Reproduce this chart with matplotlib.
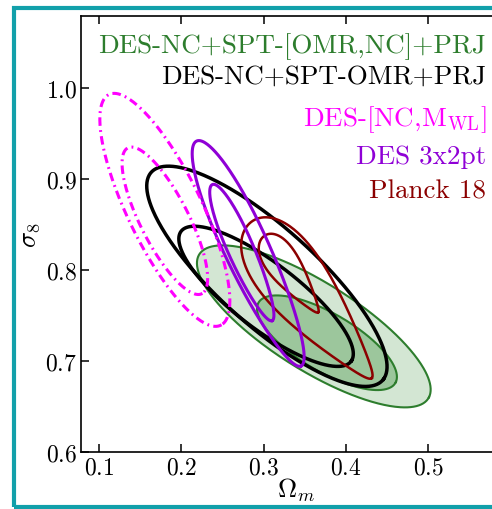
import numpy as np
import matplotlib
matplotlib.use("Agg")
import matplotlib.pyplot as plt
from matplotlib.patches import Rectangle

plt.rcParams["font.family"] = "serif"
plt.rcParams["font.serif"] = ["cmr10"]
plt.rcParams["mathtext.fontset"] = "cm"
plt.rcParams["axes.formatter.use_mathtext"] = True

# contour sets, each as [inner (68%), outer (95%)]
set_labels = ["DES-NC+SPT-[OMR,NC]+PRJ", "DES-NC+SPT-OMR+PRJ",
              r"DES-[NC,M$_{\rm WL}$]", "DES 3x2pt", "Planck 18"]
om_center = [[0.377, 0.361], [0.303, 0.304], [0.180, 0.180], [0.274, 0.282], [0.333, 0.357]]
s8_center = [[0.720, 0.738], [0.771, 0.793], [0.854, 0.866], [0.819, 0.818], [0.795, 0.766]]
om_halfwidth = [[0.085, 0.142], [0.106, 0.146], [0.052, 0.079], [0.039, 0.068], [0.036, 0.079]]
s8_halfheight = [[0.052, 0.089], [0.077, 0.121], [0.081, 0.128], [0.075, 0.124], [0.043, 0.088]]
corr = [[-0.72, -0.78], [-0.82, -0.82], [-0.78, -0.78], [-0.90, -0.90], [-0.80, -0.82]]
taper = [[0.0, 0.0], [0.0, 0.0], [0.0, 0.0], [-0.1, -0.1], [-0.55, -0.55]]

green = "#2d7d2d"
colors = [green, "black", "#ff00ff", "#8f00d6", "#8b0000"]
widths = [1.5, 2.5, 2.2, 2.2, 1.8]
fill_colors = ["#9cc69c", "#d3e6d3"]


def contour_xy(cx, cy, a, b, rho, tp, n=400):
    # ellipse from the covariance, optionally narrowed toward its lower-right tip
    cov = np.array([[a * a, rho * a * b], [rho * a * b, b * b]])
    vals, vecs = np.linalg.eigh(cov)
    major = vecs[:, 1] * np.sign(vecs[0, 1])
    minor = vecs[:, 0]
    t = np.linspace(0, 2 * np.pi, n)
    u = np.cos(t)
    v = np.sin(t) * (1 + tp * u)
    pts = np.sqrt(vals[1]) * np.outer(major, u) + np.sqrt(vals[0]) * np.outer(minor, v)
    return cx + pts[0], cy + pts[1]


def contour(i, k):
    return contour_xy(om_center[i][k], s8_center[i][k], om_halfwidth[i][k],
                      s8_halfheight[i][k], corr[i][k], taper[i][k])


fig = plt.figure(figsize=(4.92, 5.10), dpi=100)
ax = fig.add_axes([0.1646, 0.1118, 0.873, 0.8549])

# filled green contours first
for k in [1, 0]:
    x, y = contour(0, k)
    ax.fill(x, y, color=fill_colors[k], lw=0)
for k in [1, 0]:
    x, y = contour(0, k)
    ax.plot(x, y, color=green, lw=widths[0])

for i in [1, 4, 3, 2]:
    ls = (0, (2.8, 1.4, 0.6, 1.4)) if i == 2 else "-"
    for k in [0, 1]:
        x, y = contour(i, k)
        ax.plot(x, y, color=colors[i], lw=widths[i], ls=ls)

ax.set_xlim(0.0781, 0.6)
ax.set_ylim(0.6, 1.079)
ax.set_xticks([0.1, 0.2, 0.3, 0.4, 0.5])
ax.set_yticks([0.6, 0.7, 0.8, 0.9, 1.0])
ax.tick_params(direction="in", top=True, right=True, length=6, width=1.1,
               labelsize=17, pad=3)
for s in ax.spines.values():
    s.set_linewidth(1.2)
ax.set_xlabel(r"$\Omega_m$", fontsize=19, labelpad=-2)
ax.set_ylabel(r"$\sigma_8$", fontsize=19, labelpad=2)

label_y = [47, 77, 120, 157, 192]
for i, lab in enumerate(set_labels):
    fig.text(486 / 492, 1 - label_y[i] / 510, lab, color=colors[i],
             fontsize=19.5, ha="right", va="center")

fig.patches.append(Rectangle((14 / 492, 2 / 510), 1.1, 499 / 510, transform=fig.transFigure,
                             fill=False, edgecolor="#12a0aa", lw=3.0, clip_on=False))

fig.savefig("out.png", dpi=100)
